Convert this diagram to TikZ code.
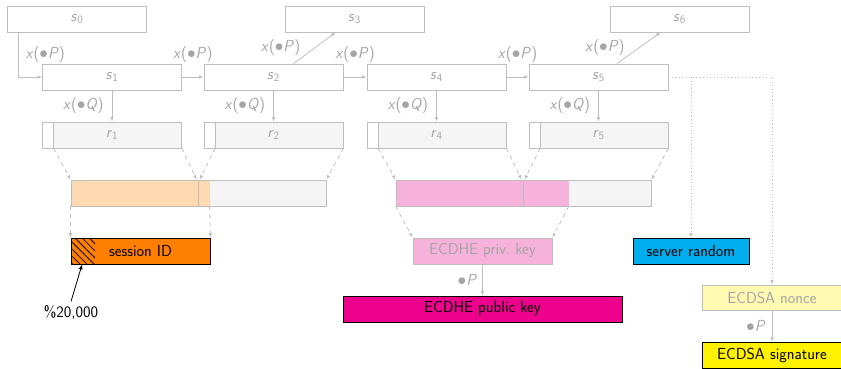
\documentclass[tikz,border=0pt]{standalone}
\usetikzlibrary{arrows.meta,patterns.meta,backgrounds}
\definecolor{lgray}{RGB}{190,190,190}
\definecolor{tgray}{RGB}{165,165,165}
\definecolor{gfill}{RGB}{245,245,245}
\definecolor{peach}{RGB}{255,217,178}
\definecolor{sorange}{RGB}{255,128,0}
\definecolor{lpink}{RGB}{247,178,220}
\definecolor{smagenta}{RGB}{236,0,140}
\definecolor{scyan}{RGB}{0,174,239}
\definecolor{lyellow}{RGB}{255,249,178}
\definecolor{syellow}{RGB}{255,242,0}
\newcommand\xP{\textit{x}($\bullet$\textit{P})}
\newcommand\xQ{\textit{x}($\bullet$\textit{Q})}
\newcommand\bP{$\bullet$\textit{P}}
\newcommand\svar[2]{\textit{#1}\textsubscript{#2}}
\begin{document}
\begin{tikzpicture}[x=1pt,y=-1pt,
  every node/.style={font=\sffamily\fontsize{16}{19}\selectfont},
  box/.style={minimum width=139pt,minimum height=26pt,inner sep=0pt,line width=0.8pt},
  gbox/.style={box,draw=lgray,text=tgray},
  kbox/.style={box,draw=black,text=black},
  lbl/.style={text=tgray,inner sep=0pt},
  gline/.style={draw=lgray,line width=0.8pt},
  garrow/.style={gline,-{Latex[length=4.5pt,width=3.5pt]}},
  darrow/.style={garrow,dash pattern=on 4pt off 4pt},
  oarrow/.style={garrow,dash pattern=on 1pt off 2.5pt},
  hatch/.style={pattern={Lines[angle=-45,distance=5pt,line width=0.8pt]}}
]
\useasboundingbox (0,0) rectangle (841,368);
\clip (0,0) rectangle (841,368);

% state row
\node[gbox] (s0) at (77,19) {\svar{s}{0}};
\node[gbox] (s3) at (354.5,19) {\svar{s}{3}};
\node[gbox] (s6) at (679.5,19) {\svar{s}{6}};
\node[gbox] (s1) at (112,77) {\svar{s}{1}};
\node[gbox] (s2) at (273.5,77) {\svar{s}{2}};
\node[gbox] (s4) at (436.5,77) {\svar{s}{4}};
\node[gbox] (s5) at (598.5,77) {\svar{s}{5}};

\draw[garrow] ([xshift=11pt]s0.south west) |- (s1.west) node[lbl,pos=0.25,right=7pt] {\xP};
\draw[garrow] (s1.east) -- (s2.west) node[lbl,midway,above=14pt] {\xP};
\draw[garrow] (s2.east) -- (s4.west) node[lbl,midway,above=14pt] {\xP};
\draw[garrow] (s4.east) -- (s5.west) node[lbl,midway,above=14pt] {\xP};
\draw[garrow] ([xshift=20pt]s2.north) -- ([xshift=51pt]s3.south west) node[lbl,midway,left=14pt] {\xP};
\draw[garrow] ([xshift=18.5pt]s5.north) -- ([xshift=51pt]s6.south west) node[lbl,midway,left=14pt] {\xP};

% output row
\foreach \i/\x in {1/112,2/273.5,4/436.5,5/598.5}{
  \node[gbox] (r\i) at (\x,135) {\svar{r}{\i}};
  \coordinate (r\i t) at ([xshift=11.5pt]r\i.north west);
  \coordinate (r\i d) at ([xshift=11.5pt]r\i.south west);
  \draw[gline] (r\i t) -- (r\i d);
  \begin{scope}[on background layer]
    \fill[gfill] (r\i t) rectangle (r\i.south east);
  \end{scope}
  \draw[garrow] (s\i) -- (r\i) node[lbl,midway,left=8pt] {\xQ};
}

% concatenated bands
\node[box,draw=lgray,minimum width=255pt] (b1) at (198.5,193) {};
\node[box,draw=lgray,minimum width=255pt] (b2) at (523.5,193) {};
\coordinate (b1e) at ([xshift=139pt]b1.north west);
\coordinate (b1f) at ([xshift=139pt]b1.south west);
\coordinate (b2e) at ([xshift=173pt]b2.north west);
\coordinate (b2f) at ([xshift=173pt]b2.south west);
\begin{scope}[on background layer]
  \fill[peach] (b1.north west) rectangle (b1f);
  \fill[gfill] (b1e) rectangle (b1.south east);
  \fill[lpink] (b2.north west) rectangle (b2f);
  \fill[gfill] (b2e) rectangle (b2.south east);
\end{scope}
\draw[gline] ([xshift=127.5pt]b1.north west) -- ([xshift=127.5pt]b1.south west);
\draw[gline] ([xshift=127.5pt]b2.north west) -- ([xshift=127.5pt]b2.south west);

\draw[darrow] (r1d) -- (b1.north west);
\draw[darrow] (r1.south east) -- ([xshift=126pt]b1.north west);
\draw[darrow] (r2d) -- ([xshift=129pt]b1.north west);
\draw[darrow] (r2.south east) -- (b1.north east);
\draw[darrow] (r4d) -- (b2.north west);
\draw[darrow] (r4.south east) -- ([xshift=126pt]b2.north west);
\draw[darrow] (r5d) -- ([xshift=129pt]b2.north west);
\draw[darrow] (r5.south east) -- (b2.north east);

% derived values
\node[kbox,fill=sorange,path picture={\fill[hatch] (path picture bounding box.north west) rectangle ([xshift=24pt]path picture bounding box.south west);}] (sid) at (140.5,251) {session ID};
\node[gbox,fill=lpink] (priv) at (482.5,251) {ECDHE priv.\ key};
\node[kbox,fill=smagenta,minimum width=279pt] (pub) at (482.5,309) {ECDHE public key};
\node[kbox,fill=scyan,minimum width=116pt] (srv) at (691,251) {server random};
\node[gbox,fill=lyellow,minimum width=140pt,minimum height=25pt] (nonce) at (772,297.5) {ECDSA nonce};
\node[kbox,fill=syellow,minimum width=140pt] (sig) at (772,355) {ECDSA signature};

\draw[darrow] (b1.south west) -- (sid.north west);
\draw[darrow] (b1f) -- (sid.north east);
\draw[darrow] (b2.south west) -- (priv.north west);
\draw[darrow] (b2f) -- (priv.north east);

\draw[garrow] (priv) -- (pub) node[lbl,midway,left=5pt] {\bP};
\draw[garrow] (nonce) -- (sig) node[lbl,midway,left=6pt] {\bP};

\draw[oarrow] (s5.east) -| (nonce.north);
\draw[oarrow] (s5.east -| srv.north) -- (srv.north);

\node (pct) at (71,312) {\%20,000};
\draw[black,line width=0.8pt,-{Latex[length=5pt,width=4pt]}] (pct.north) -- ([xshift=11.5pt]sid.south west);
\end{tikzpicture}
\end{document}
